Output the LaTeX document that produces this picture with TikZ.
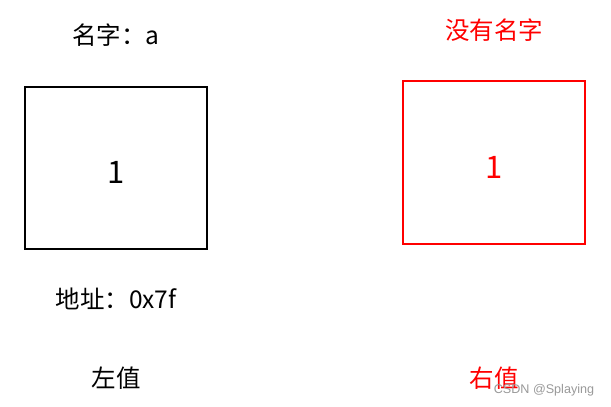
\documentclass[tikz,border=0pt]{standalone}
\usepackage{fontspec}
\setmainfont{Noto Sans CJK SC}
\newfontfamily\wmfont{Liberation Sans}
\begin{document}
\begin{tikzpicture}[x=1pt,y=-1pt,
  lbl/.style={font=\fontsize{24.5}{28}\selectfont, inner sep=0pt},
  num/.style={font=\fontsize{31}{36}\selectfont, inner sep=0pt, anchor=base},
  cell/.style={draw, line width=1.6pt, inner sep=0pt}]
\useasboundingbox (0,0) rectangle (611,407);
\fill[white] (0,0) rectangle (611,407);
\node[cell, minimum width=182pt, minimum height=162pt] (lbox) at (116,168) {};
\node[cell, draw=red, minimum width=182pt, minimum height=163pt] (rbox) at (494,162.5) {};
\node[num] (lnum) at (116,183) {1};
\node[num, text=red] (rnum) at (494,178) {1};
\node[lbl] (lname) at (116,35) {名字：a};
\node[lbl, text=red] (rname) at (494,30) {没有名字};
\node[lbl] (addr) at (116,299) {地址：0x7f};
\node[lbl] (lval) at (116,378) {左值};
\node[lbl, text=red] (rval) at (494,378) {右值};
\node[font=\wmfont\fontsize{12.6}{15}\selectfont, text=black!40, inner sep=0pt] (wm) at (544,390) {CSDN @Splaying};
\end{tikzpicture}
\end{document}
